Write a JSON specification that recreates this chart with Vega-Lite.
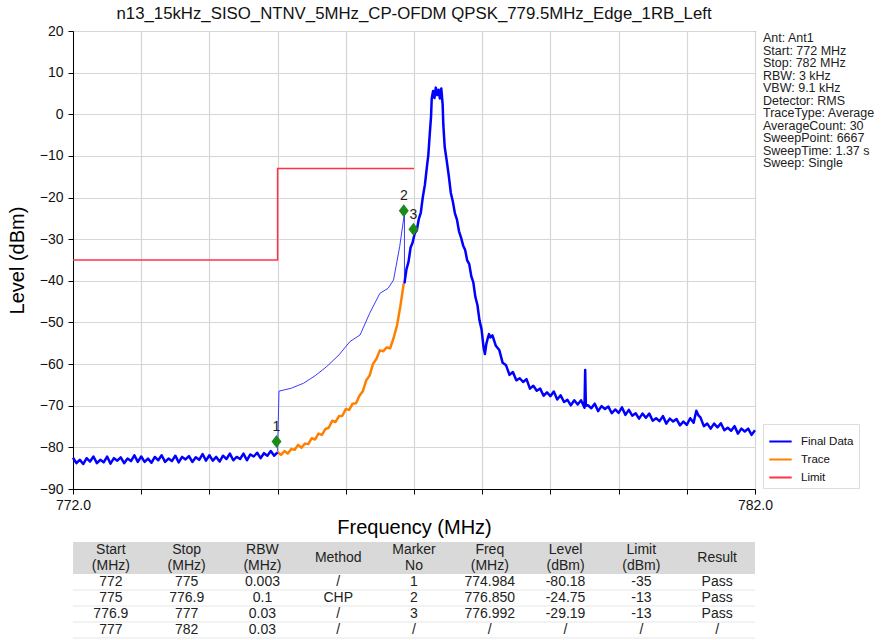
{
  "$schema": "https://vega.github.io/schema/vega-lite/v6.json",
  "padding": {"left": 6, "top": 5, "right": 0, "bottom": 0},
  "background": "white",
  "config": {
    "font": "Liberation Sans",
    "view": {"stroke": "#333"},
    "axis": {"labelFont": "Liberation Sans", "titleFont": "Liberation Sans", "labelColor": "#111", "titleColor": "#000", "titleFontWeight": "normal", "domainColor": "#000", "tickColor": "#000", "gridColor": "#d6d6d6", "gridWidth": 1.2, "labelFontSize": 14, "titleFontSize": 20}
  },
  "datasets": {
    "limit": [{"f":772,"v":-35},{"f":775,"v":-35},{"f":775,"v":-13},{"f":777,"v":-13}],
    "a": [{"f":772.00,"v":-82.5},{"f":772.05,"v":-83.8},{"f":772.10,"v":-83.0},{"f":772.15,"v":-84.0},{"f":772.20,"v":-82.6},{"f":772.25,"v":-83.4},{"f":772.30,"v":-82.2},{"f":772.35,"v":-83.8},{"f":772.40,"v":-83.0},{"f":772.45,"v":-83.6},{"f":772.50,"v":-82.2},{"f":772.55,"v":-83.9},{"f":772.60,"v":-82.6},{"f":772.65,"v":-83.2},{"f":772.70,"v":-82.4},{"f":772.75,"v":-83.8},{"f":772.80,"v":-82.7},{"f":772.85,"v":-83.3},{"f":772.90,"v":-81.9},{"f":772.95,"v":-83.5},{"f":773.00,"v":-82.2},{"f":773.05,"v":-83.5},{"f":773.10,"v":-82.7},{"f":773.15,"v":-83.7},{"f":773.20,"v":-82.3},{"f":773.25,"v":-83.1},{"f":773.30,"v":-81.9},{"f":773.35,"v":-83.5},{"f":773.40,"v":-82.7},{"f":773.45,"v":-83.3},{"f":773.50,"v":-82.0},{"f":773.55,"v":-83.6},{"f":773.60,"v":-82.3},{"f":773.65,"v":-82.9},{"f":773.70,"v":-82.1},{"f":773.75,"v":-83.5},{"f":773.80,"v":-82.4},{"f":773.85,"v":-83.0},{"f":773.90,"v":-81.6},{"f":773.95,"v":-83.2},{"f":774.00,"v":-81.9},{"f":774.05,"v":-83.2},{"f":774.10,"v":-82.3},{"f":774.15,"v":-83.4},{"f":774.20,"v":-82.0},{"f":774.25,"v":-82.8},{"f":774.30,"v":-81.5},{"f":774.35,"v":-83.1},{"f":774.40,"v":-82.3},{"f":774.45,"v":-82.8},{"f":774.50,"v":-81.5},{"f":774.55,"v":-83.1},{"f":774.60,"v":-81.7},{"f":774.65,"v":-82.2},{"f":774.70,"v":-81.3},{"f":774.75,"v":-82.6},{"f":774.80,"v":-81.4},{"f":774.85,"v":-82.0},{"f":774.90,"v":-80.9},{"f":774.95,"v":-82.0},{"f":775.00,"v":-81.2}],
    "b": [{"f":775.00,"v":-81.0},{"f":775.02,"v":-66.5},{"f":775.20,"v":-65.8},{"f":775.38,"v":-64.6},{"f":775.55,"v":-62.8},{"f":775.72,"v":-60.6},{"f":775.90,"v":-57.8},{"f":776.06,"v":-54.6},{"f":776.21,"v":-53.0},{"f":776.35,"v":-47.8},{"f":776.50,"v":-43.0},{"f":776.62,"v":-41.8},{"f":776.70,"v":-39.8},{"f":776.79,"v":-31.8},{"f":776.86,"v":-23.8},{"f":776.86,"v":-40.6}],
    "o": [{"f":775.00,"v":-81.1},{"f":775.05,"v":-81.8},{"f":775.10,"v":-80.9},{"f":775.15,"v":-81.5},{"f":775.20,"v":-80.4},{"f":775.25,"v":-80.6},{"f":775.30,"v":-79.4},{"f":775.35,"v":-80.1},{"f":775.40,"v":-79.1},{"f":775.45,"v":-79.2},{"f":775.50,"v":-77.8},{"f":775.55,"v":-78.1},{"f":775.60,"v":-76.7},{"f":775.65,"v":-77.0},{"f":775.70,"v":-75.6},{"f":775.75,"v":-75.3},{"f":775.80,"v":-73.6},{"f":775.85,"v":-73.9},{"f":775.90,"v":-72.5},{"f":775.95,"v":-72.4},{"f":776.00,"v":-70.8},{"f":776.05,"v":-71.0},{"f":776.10,"v":-69.5},{"f":776.15,"v":-69.4},{"f":776.20,"v":-67.6},{"f":776.25,"v":-66.5},{"f":776.30,"v":-63.9},{"f":776.35,"v":-62.7},{"f":776.40,"v":-59.9},{"f":776.45,"v":-58.7},{"f":776.50,"v":-56.7},{"f":776.55,"v":-56.9},{"f":776.60,"v":-56.0},{"f":776.65,"v":-56.2},{"f":776.70,"v":-53.8},{"f":776.75,"v":-50.8},{"f":776.80,"v":-46.1},{"f":776.85,"v":-40.6}],
    "c": [{"f":776.86,"v":-40.6},{"f":776.89,"v":-37.2},{"f":776.92,"v":-35.4},{"f":776.95,"v":-32.0},{"f":776.98,"v":-30.8},{"f":777.01,"v":-28.6},{"f":777.04,"v":-27.9},{"f":777.07,"v":-25.2},{"f":777.10,"v":-23.6},{"f":777.13,"v":-19.8},{"f":777.16,"v":-16.9},{"f":777.19,"v":-12.5},{"f":777.21,"v":-9.8},{"f":777.23,"v":-5.0},{"f":777.25,"v":-0.5},{"f":777.26,"v":3.8},{"f":777.28,"v":5.6},{"f":777.30,"v":3.9},{"f":777.32,"v":6.4},{"f":777.34,"v":4.6},{"f":777.36,"v":5.9},{"f":777.38,"v":3.8},{"f":777.40,"v":6.2},{"f":777.42,"v":2.4},{"f":777.43,"v":-2.5},{"f":777.45,"v":-7.8},{"f":777.48,"v":-11.2},{"f":777.51,"v":-14.8},{"f":777.54,"v":-18.9},{"f":777.57,"v":-21.0},{"f":777.60,"v":-23.8},{"f":777.63,"v":-25.3},{"f":777.66,"v":-28.1},{"f":777.69,"v":-29.6},{"f":777.72,"v":-31.5},{"f":777.75,"v":-32.6},{"f":777.78,"v":-35.1},{"f":777.81,"v":-36.0},{"f":777.84,"v":-38.9},{"f":777.87,"v":-40.4},{"f":777.90,"v":-43.9},{"f":777.93,"v":-45.8},{"f":777.96,"v":-49.5},{"f":777.99,"v":-51.6},{"f":778.02,"v":-56.0},{"f":778.04,"v":-57.6},{"f":778.06,"v":-55.2},{"f":778.08,"v":-53.9},{"f":778.10,"v":-52.8},{"f":778.12,"v":-53.6},{"f":778.15,"v":-53.1},{"f":778.20,"v":-55.6},{"f":778.25,"v":-56.6},{"f":778.30,"v":-59.7},{"f":778.35,"v":-60.3},{"f":778.40,"v":-62.6},{"f":778.45,"v":-61.9},{"f":778.50,"v":-63.9},{"f":778.55,"v":-63.4},{"f":778.60,"v":-64.3},{"f":778.65,"v":-63.6},{"f":778.70,"v":-65.9},{"f":778.75,"v":-65.2},{"f":778.80,"v":-66.4},{"f":778.85,"v":-65.9},{"f":778.90,"v":-67.6},{"f":778.95,"v":-66.8},{"f":779.00,"v":-67.7},{"f":779.05,"v":-66.6},{"f":779.10,"v":-68.5},{"f":779.15,"v":-67.5},{"f":779.20,"v":-69.1},{"f":779.25,"v":-68.6},{"f":779.30,"v":-69.9},{"f":779.35,"v":-68.7},{"f":779.40,"v":-69.7},{"f":779.45,"v":-68.7},{"f":779.50,"v":-70.5},{"f":779.51,"v":-61.4},{"f":779.52,"v":-70.0},{"f":779.55,"v":-69.9},{"f":779.60,"v":-70.6},{"f":779.65,"v":-69.5},{"f":779.70,"v":-71.3},{"f":779.75,"v":-70.1},{"f":779.80,"v":-70.8},{"f":779.85,"v":-70.2},{"f":779.90,"v":-71.8},{"f":779.95,"v":-70.9},{"f":780.00,"v":-71.7},{"f":780.05,"v":-70.4},{"f":780.10,"v":-72.2},{"f":780.15,"v":-71.0},{"f":780.20,"v":-72.4},{"f":780.25,"v":-71.8},{"f":780.30,"v":-73.1},{"f":780.35,"v":-71.9},{"f":780.40,"v":-72.9},{"f":780.45,"v":-71.9},{"f":780.50,"v":-73.6},{"f":780.55,"v":-73.0},{"f":780.60,"v":-73.7},{"f":780.65,"v":-72.5},{"f":780.70,"v":-74.3},{"f":780.75,"v":-73.1},{"f":780.80,"v":-73.8},{"f":780.85,"v":-73.2},{"f":780.90,"v":-74.7},{"f":780.95,"v":-73.8},{"f":781.00,"v":-74.6},{"f":781.05,"v":-73.0},{"f":781.10,"v":-74.1},{"f":781.14,"v":-71.2},{"f":781.17,"v":-72.3},{"f":781.20,"v":-72.8},{"f":781.25,"v":-74.9},{"f":781.30,"v":-74.3},{"f":781.35,"v":-75.5},{"f":781.40,"v":-74.3},{"f":781.45,"v":-75.2},{"f":781.50,"v":-74.2},{"f":781.55,"v":-75.9},{"f":781.60,"v":-75.3},{"f":781.65,"v":-76.0},{"f":781.70,"v":-74.9},{"f":781.75,"v":-76.7},{"f":781.80,"v":-75.5},{"f":781.85,"v":-76.2},{"f":781.90,"v":-75.5},{"f":781.95,"v":-77.0},{"f":782.00,"v":-75.9}],
    "markers": [{"m":"1","f":774.984,"v":-80.18},{"m":"2","f":776.850,"v":-24.75},{"m":"3","f":776.992,"v":-29.19}],
    "sweepinfo": [{"txt":"Ant: Ant1\nStart: 772 MHz\nStop: 782 MHz\nRBW: 3 kHz\nVBW: 9.1 kHz\nDetector: RMS\nTraceType: Average\nAverageCount: 30\nSweepPoint: 6667\nSweepTime: 1.37 s\nSweep: Single"}],
    "hbg": [{"r":"h1"},{"r":"h2"}],
    "seps": [{"r":"1"},{"r":"2"},{"r":"3"},{"r":"4"}],
    "hdr2": [
      {"key":"Start","r":"h1","h":"Start"},{"key":"Start","r":"h2","h":"(MHz)"},
      {"key":"Stop","r":"h1","h":"Stop"},{"key":"Stop","r":"h2","h":"(MHz)"},
      {"key":"RBW","r":"h1","h":"RBW"},{"key":"RBW","r":"h2","h":"(MHz)"},
      {"key":"MarkerNo","r":"h1","h":"Marker"},{"key":"MarkerNo","r":"h2","h":"No"},
      {"key":"Freq","r":"h1","h":"Freq"},{"key":"Freq","r":"h2","h":"(MHz)"},
      {"key":"Level","r":"h1","h":"Level"},{"key":"Level","r":"h2","h":"(dBm)"},
      {"key":"Limit","r":"h1","h":"Limit"},{"key":"Limit","r":"h2","h":"(dBm)"}
    ],
    "hdr1": [{"key":"Method","r":"h1","h":"Method"},{"key":"Result","r":"h1","h":"Result"}],
    "rows": [
      {"r":"1","Start":"772","Stop":"775","RBW":"0.003","Method":"/","MarkerNo":"1","Freq":"774.984","Level":"-80.18","Limit":"-35","Result":"Pass"},
      {"r":"2","Start":"775","Stop":"776.9","RBW":"0.1","Method":"CHP","MarkerNo":"2","Freq":"776.850","Level":"-24.75","Limit":"-13","Result":"Pass"},
      {"r":"3","Start":"776.9","Stop":"777","RBW":"0.03","Method":"/","MarkerNo":"3","Freq":"776.992","Level":"-29.19","Limit":"-13","Result":"Pass"},
      {"r":"4","Start":"777","Stop":"782","RBW":"0.03","Method":"/","MarkerNo":"/","Freq":"/","Level":"/","Limit":"/","Result":"/"}
    ]
  },
  "bounds": "flush",
  "spacing": 53,
  "resolve": {"scale": {"color": "independent"}, "legend": {"color": "independent"}},
  "vconcat": [
    {
      "width": 682,
      "height": 458,
      "title": {"text": "n13_15kHz_SISO_NTNV_5MHz_CP-OFDM QPSK_779.5MHz_Edge_1RB_Left", "fontSize": 16.8, "fontWeight": "normal", "offset": 1, "color": "#111", "font": "Liberation Sans"},
      "layer": [
        {
          "data": {"name": "limit"},
          "mark": {"type": "line", "strokeWidth": 1.5},
          "encoding": {
            "x": {"field": "f", "type": "quantitative", "title": "Frequency (MHz)",
              "scale": {"domain": [772, 782], "nice": false, "zero": false},
              "axis": {"values": [772,773,774,775,776,777,778,779,780,781,782], "labelExpr": "datum.value == 772 || datum.value == 782 ? format(datum.value, '.1f') : ''", "labelFlush": false, "tickSize": 5, "labelPadding": 4, "titlePadding": 5, "grid": true}},
            "y": {"field": "v", "type": "quantitative", "title": "Level (dBm)",
              "scale": {"domain": [-90, 20], "nice": false, "zero": false},
              "axis": {"values": [-90,-80,-70,-60,-50,-40,-30,-20,-10,0,10,20], "tickSize": 5, "labelPadding": 5, "titlePadding": 12, "grid": true}},
            "color": {"datum": "Limit", "type": "nominal",
              "scale": {"domain": ["Final Data", "Trace", "Limit"], "range": ["#0000ff", "#ff8000", "#ff3344"]},
              "legend": {"title": null, "orient": "none", "legendX": 690, "legendY": 393, "symbolType": "stroke", "symbolSize": 500, "symbolStrokeWidth": 2, "labelFontSize": 11.5, "labelOffset": 8, "labelColor": "#111", "strokeColor": "#dddddd", "fillColor": "white", "padding": 5, "rowPadding": 0}},
            "order": {"value": null}
          }
        },
        {
          "data": {"name": "b"},
          "mark": {"type": "line", "strokeWidth": 1, "color": "#3a3aff"},
          "encoding": {"x": {"field": "f", "type": "quantitative"}, "y": {"field": "v", "type": "quantitative"}, "order": {"value": null}}
        },
        {
          "data": {"name": "o"},
          "mark": {"type": "line", "strokeWidth": 2.5, "strokeJoin": "round"},
          "encoding": {"x": {"field": "f", "type": "quantitative"}, "y": {"field": "v", "type": "quantitative"}, "color": {"datum": "Trace", "type": "nominal"}}
        },
        {
          "data": {"name": "a"},
          "mark": {"type": "line", "strokeWidth": 2.5, "strokeJoin": "round"},
          "encoding": {"x": {"field": "f", "type": "quantitative"}, "y": {"field": "v", "type": "quantitative"}, "color": {"datum": "Final Data", "type": "nominal"}}
        },
        {
          "data": {"name": "c"},
          "mark": {"type": "line", "strokeWidth": 2.5, "strokeJoin": "round"},
          "encoding": {"x": {"field": "f", "type": "quantitative"}, "y": {"field": "v", "type": "quantitative"}, "color": {"datum": "Final Data", "type": "nominal"}}
        },
        {
          "data": {"name": "markers"},
          "mark": {"type": "point", "shape": "M0,-1.3L1,0L0,1.3L-1,0Z", "filled": true, "color": "#1b8a1b", "opacity": 1, "size": 100, "yOffset": -6.5},
          "encoding": {"x": {"field": "f", "type": "quantitative"}, "y": {"field": "v", "type": "quantitative"}}
        },
        {
          "data": {"name": "markers"},
          "mark": {"type": "text", "fontSize": 14, "color": "#222", "baseline": "middle", "dy": -21},
          "encoding": {"x": {"field": "f", "type": "quantitative"}, "y": {"field": "v", "type": "quantitative"}, "text": {"field": "m"}}
        },
        {
          "data": {"name": "sweepinfo"},
          "mark": {"type": "text", "align": "left", "baseline": "top", "lineBreak": "\n", "fontSize": 12.5, "lineHeight": 12.5, "dx": 8, "dy": 1, "color": "#222"},
          "encoding": {
            "x": {"datum": 782, "type": "quantitative"},
            "y": {"datum": 20, "type": "quantitative"},
            "text": {"field": "txt", "type": "nominal"}
          }
        }
      ]
    },
    {
      "width": 682,
      "height": 96,
      "view": {"stroke": null},
      "layer": [
        {
          "data": {"name": "hbg"},
          "mark": {"type": "rect", "color": "#d9d9d9"},
          "encoding": {
            "y": {"field": "r", "type": "nominal", "axis": null, "scale": {"type": "band", "domain": ["h1","h2","1","2","3","4"], "paddingInner": 0, "paddingOuter": 0}}
          }
        },
        {
          "data": {"name": "seps"},
          "mark": {"type": "rule", "color": "#e6e6e6", "strokeWidth": 1},
          "encoding": {
            "y": {"field": "r", "type": "nominal", "bandPosition": 1, "axis": null}
          }
        },
        {
          "data": {"name": "hdr2"},
          "mark": {"type": "text", "fontSize": 14, "baseline": "middle", "color": "#222"},
          "encoding": {
            "x": {"field": "key", "type": "nominal", "axis": null, "scale": {"type": "band", "domain": ["Start","Stop","RBW","Method","MarkerNo","Freq","Level","Limit","Result"], "paddingInner": 0, "paddingOuter": 0}},
            "y": {"field": "r", "type": "nominal", "axis": null},
            "text": {"field": "h"}
          }
        },
        {
          "data": {"name": "hdr1"},
          "mark": {"type": "text", "fontSize": 14, "baseline": "middle", "color": "#222", "dy": 8},
          "encoding": {
            "x": {"field": "key", "type": "nominal", "axis": null},
            "y": {"field": "r", "type": "nominal", "axis": null},
            "text": {"field": "h"}
          }
        },
        {
          "data": {"name": "rows"},
          "transform": [{"fold": ["Start","Stop","RBW","Method","MarkerNo","Freq","Level","Limit","Result"], "as": ["key", "val"]}],
          "mark": {"type": "text", "fontSize": 14, "baseline": "middle", "color": "#222"},
          "encoding": {
            "x": {"field": "key", "type": "nominal", "axis": null},
            "y": {"field": "r", "type": "nominal", "axis": null},
            "text": {"field": "val"}
          }
        }
      ]
    }
  ]
}
